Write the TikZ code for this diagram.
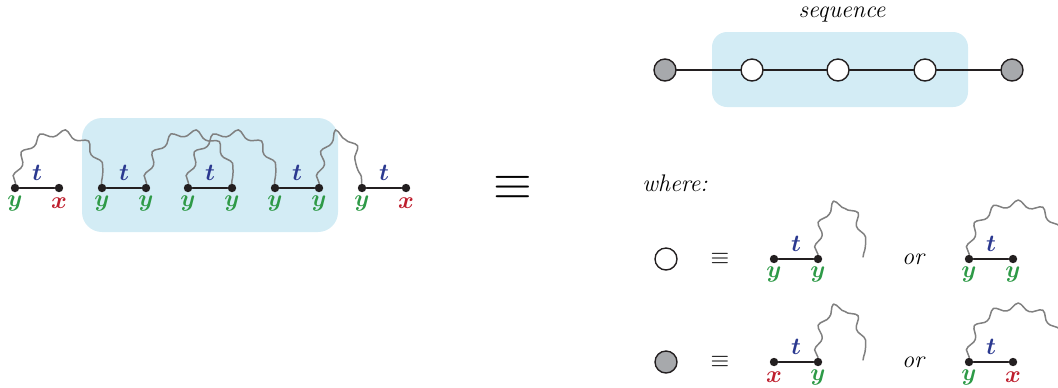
\documentclass[tikz,border=0pt]{standalone}
\usepackage{amsmath}
\usetikzlibrary{decorations.pathmorphing,positioning}
\definecolor{seqblue}{HTML}{D3ECF5}
\definecolor{tblue}{HTML}{2B3990}
\definecolor{ygreen}{HTML}{2E9A47}
\definecolor{xred}{HTML}{BE1E2D}
\definecolor{wavegray}{HTML}{808080}
\definecolor{ballgray}{HTML}{A7A9AC}
\definecolor{ink}{HTML}{231F20}
\tikzset{
  every picture/.style={line join=round, line cap=round},
  dot/.style={circle, fill=ink, inner sep=0pt, minimum size=4.2pt},
  chord/.style={ink, line width=1.3pt},
  wave/.style={wavegray, line width=0.75pt, decorate,
    decoration={snake, amplitude=1.7pt, segment length=12pt}},
  lab/.style={font=\fontsize{12}{14}\selectfont\boldmath, inner sep=0pt},
  txt/.style={font=\fontsize{12}{14}\selectfont\itshape, inner sep=0pt},
  ball/.style={circle, draw=ink, line width=0.7pt, inner sep=0pt, minimum size=11pt},
  seqbox/.style={fill=seqblue, draw=none},
}
\newcommand{\yl}{\textcolor{ygreen}{$y$}}
\newcommand{\xl}{\textcolor{xred}{$x$}}
% one t-chord: name, left x, y, left label, right label
\newcommand{\tchord}[5]{%
  \node[dot] (#1l) at (#2,#3) {};
  \node[dot] (#1r) at (#2+44,#3) {};
  \draw[chord] (#1l) -- (#1r);
  \node[lab, text=tblue] (#1t) at (#2+22,#3-15) {$t$};
  \node[lab] (#1a) at (#2,#3+15) {#4};
  \node[lab] (#1b) at (#2+44,#3+15) {#5};
}
\begin{document}
\begin{tikzpicture}[x=0.5pt,y=-0.5pt]
\useasboundingbox (0,0) rectangle (1058,387);
\clip (0,0) rectangle (1058,387);

% left: the chain
\fill[seqbox, rounded corners=10pt] (82,118) rectangle (338,232);
\tchord{c1}{15}{188}{\yl}{\xl}
\tchord{c2}{102}{188}{\yl}{\yl}
\tchord{c3}{188}{188}{\yl}{\yl}
\tchord{c4}{275}{188}{\yl}{\yl}
\tchord{c5}{362}{188}{\yl}{\xl}
\draw[wave] (c1l) .. controls +(8,-64) and +(-8,-64) .. (c2l);
\draw[wave] (c2r) .. controls +(8,-64) and +(-8,-64) .. (c3r);
\draw[wave] (c3l) .. controls +(8,-64) and +(-8,-64) .. (c4l);
\draw[wave] (c4r) .. controls +(4,-64) and +(-4,-64) .. (c5l);

\node[font=\fontsize{26}{30}\selectfont] (eq) at (513,188) {$\equiv$};

% right: the sequence
\fill[seqbox, rounded corners=7.5pt] (712,32) rectangle (968,107);
\node[txt] (seq) at (842,15) {sequence};
\node[ball, fill=ballgray] (s1) at (665,70) {};
\node[ball, fill=white] (s2) at (752,70) {};
\node[ball, fill=white] (s3) at (838,70) {};
\node[ball, fill=white] (s4) at (925,70) {};
\node[ball, fill=ballgray] (s5) at (1012,70) {};
\draw[chord] (s1) -- (s2) -- (s3) -- (s4) -- (s5);

\node[txt, anchor=west] (where) at (642,183) {where:};

% legend rows
\node[ball, fill=white] (wb) at (666,259) {};
\node[font=\fontsize{13}{15}\selectfont] (eq1) at (720,259) {$\equiv$};
\tchord{a1}{774}{259}{\yl}{\yl}
\node[txt] (or1) at (913,259) {or};
\tchord{a2}{969}{259}{\yl}{\yl}
\coordinate (e1) at (863,257);
\coordinate (e2) at (1061,257);
\draw[wave] (a1r) .. controls +(0,-64) and +(0,-64) .. (e1);
\draw[wave] (a2l) .. controls +(4,-64) and +(0,-64) .. (e2);

\node[ball, fill=ballgray] (gb) at (666,362) {};
\node[font=\fontsize{13}{15}\selectfont] (eq2) at (720,362) {$\equiv$};
\tchord{b1}{774}{362}{\xl}{\yl}
\node[txt] (or2) at (913,362) {or};
\tchord{b2}{969}{362}{\yl}{\xl}
\coordinate (e3) at (863,360);
\coordinate (e4) at (1061,360);
\draw[wave] (b1r) .. controls +(0,-64) and +(0,-64) .. (e3);
\draw[wave] (b2l) .. controls +(4,-64) and +(0,-64) .. (e4);
\end{tikzpicture}
\end{document}
